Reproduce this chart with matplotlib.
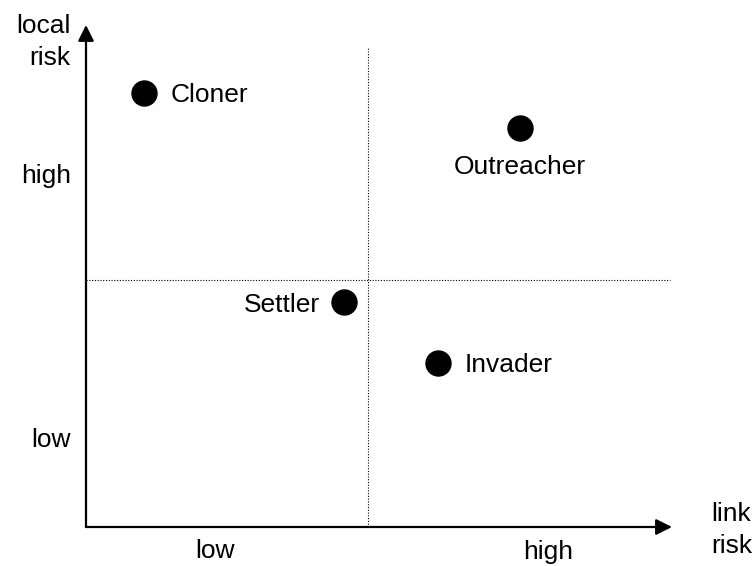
import matplotlib
matplotlib.use('Agg')
import matplotlib.pyplot as plt

plt.rcParams['font.family'] = ['Liberation Sans', 'DejaVu Sans']

# strategy positions (link risk, local risk) on a 0-100 scale
names = ['Cloner', 'Outreacher', 'Settler', 'Invader']
link_risk = [9.9, 74.1, 44.0, 60.1]
local_risk = [86.5, 79.5, 44.8, 32.7]
# label offsets in points and alignment
offsets = [(19, 0), (0, -26), (-17, 0), (19, 0)]
aligns = ['left', 'center', 'right', 'left']

x_split = 48.1
y_split = 49.2
tick_labels = ['low', 'high']
x_ticks = [22.0, 78.8]
y_ticks = [17.9, 70.5]

fig = plt.figure(figsize=(7.55, 5.66), dpi=100)
ax = fig.add_axes([86/755, 39/566, 586/755, 502/566])
ax.set_xlim(0, 100)
ax.set_ylim(0, 100)
for s in ax.spines.values():
    s.set_visible(False)

# axes with arrow heads
arrow = dict(arrowstyle='-|>', lw=1.6, color='k', mutation_scale=24, shrinkA=0, shrinkB=0)
ax.annotate('', xy=(100, 0), xytext=(0, 0), arrowprops=arrow, annotation_clip=False)
ax.annotate('', xy=(0, 100), xytext=(0, 0), arrowprops=arrow, annotation_clip=False)

# quadrant dividers
ax.plot([x_split, x_split], [0, 95.4], color='k', lw=0.8, ls=(0, (1, 1.5)))
ax.plot([0, 99.7], [y_split, y_split], color='k', lw=0.8, ls=(0, (1, 1.5)))

ax.plot(link_risk, local_risk, 'o', color='k', markersize=18, ls='none')
for n, x, y, off, ha in zip(names, link_risk, local_risk, offsets, aligns):
    ax.annotate(n, (x, y), xytext=off, textcoords='offset points',
                ha=ha, va='center_baseline', fontsize=19)

ax.set_xticks(x_ticks)
ax.set_xticklabels(tick_labels)
ax.set_yticks(y_ticks)
ax.set_yticklabels(tick_labels)
ax.tick_params(length=0, labelsize=19)
ax.tick_params(axis='y', pad=11)
ax.tick_params(axis='x', pad=9)

ax.text(-2.6, 96.6, 'local\nrisk', ha='right', va='center', fontsize=19,
        linespacing=1.4, clip_on=False)
ax.text(106.7, -0.6, 'link\nrisk', ha='left', va='center', fontsize=19,
        linespacing=1.4, clip_on=False)

fig.savefig('out.png', dpi=100)
